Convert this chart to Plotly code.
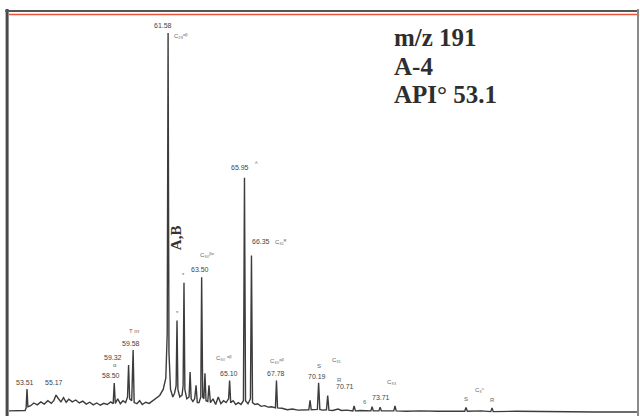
import plotly.graph_objects as go

# ---- chromatogram trace (retention time in min, relative intensity %) ----
rt = [52.48, 53.0, 53.40, 53.46, 53.51, 53.56, 53.7, 53.9, 54.1, 54.3, 54.5, 54.7, 54.9,
      55.05, 55.17, 55.3, 55.45, 55.6, 55.75, 55.9, 56.1, 56.3, 56.5, 56.7, 56.9, 57.1,
      57.3, 57.5, 57.7, 57.9, 58.1, 58.3, 58.44, 58.50, 58.56, 58.7, 58.85, 59.0, 59.15,
      59.26, 59.32, 59.38, 59.50, 59.58, 59.64, 59.8, 59.95, 60.1, 60.3, 60.5, 60.7, 60.9,
      61.1, 61.3, 61.45, 61.53, 61.58, 61.63, 61.72, 61.85, 61.95, 62.04, 62.09, 62.14,
      62.25, 62.38, 62.44, 62.49, 62.54, 62.65, 62.78, 62.84, 62.90, 63.0, 63.10, 63.18,
      63.25, 63.35, 63.45, 63.50, 63.56, 63.63, 63.69, 63.75, 63.85, 63.92, 64.0, 64.15,
      64.3, 64.45, 64.6, 64.75, 64.9, 65.04, 65.10, 65.16, 65.3, 65.45, 65.6, 65.75, 65.89,
      65.95, 66.01, 66.15, 66.29, 66.35, 66.41, 66.55, 66.7, 66.9, 67.1, 67.3, 67.5, 67.72,
      67.78, 67.84, 68.1, 68.4, 68.7, 69.0, 69.3, 69.63, 69.70, 69.77, 70.12, 70.19, 70.26,
      70.4, 70.64, 70.71, 70.78, 71.0, 71.3, 71.5, 71.8, 72.15, 72.22, 72.3, 72.6, 73.18,
      73.25, 73.32, 73.64, 73.71, 73.78, 74.2, 74.49, 74.56, 74.63, 75.2, 76.0, 77.0, 78.0,
      78.55, 78.62, 78.70, 79.5, 80.04, 80.11, 80.18, 81.5, 83.0, 84.5, 86.0, 88.46]
intensity = [-0.5, -0.5, -0.4, 0.3, 5.3, 0.6, 0.8, 1.6, 1.1, 1.9, 1.3, 2.2, 1.5,
             2.3, 3.7, 2.8, 1.9, 3.0, 1.8, 2.6, 1.9, 2.4, 1.6, 2.1, 1.3, 1.8,
             1.1, 1.6, 1.0, 1.5, 1.2, 1.9, 1.4, 6.9, 1.5, 2.7, 1.4, 2.2, 1.7,
             3.2, 11.7, 2.7, 2.2, 15.7, 1.7, 1.4, 2.2, 1.2, 1.8, 1.5, 2.2, 2.7,
             3.6, 5.2, 8.2, 20.0, 100.0, 15.0, 5.2, 3.2, 4.2, 6.2, 23.5, 5.2,
             3.2, 3.7, 6.2, 33.6, 5.2, 2.7, 3.2, 9.8, 2.7, 2.0, 2.7, 6.3,
             1.7, 1.7, 3.2, 35.0, 3.2, 2.7, 9.5, 2.2, 2.0, 6.3, 1.7, 2.7,
             1.2, 3.2, 1.4, 2.2, 1.7, 2.7, 7.6, 1.7, 2.2, 1.2, 1.7, 1.2, 2.2,
             61.5, 2.2, 1.4, 2.7, 40.8, 1.7, 1.2, 1.4, 0.7, 0.9, 0.5, 0.6, 0.3,
             7.6, 0.3, 0.2, -0.2, 0.0, -0.3, -0.2, -0.2, 2.3, -0.2, -0.1, 7.0, -0.1,
             -0.3, -0.2, 3.6, -0.3, -0.4, 0.0, -0.4, -0.3, -0.5, 0.8, -0.5, -0.4, -0.5,
             0.6, -0.5, -0.5, 0.5, -0.5, -0.4, -0.5, 0.8, -0.5, -0.6, -0.5, -0.6, -0.5,
             -0.6, 0.4, -0.6, -0.5, -0.7, 0.3, -0.7, -0.6, -0.7, -0.7, -0.8, -0.8]

# ---- labelled retention times ----
label_rt = [53.51, 55.17, 58.50, 59.32, 59.58, 61.58, 63.50, 65.10, 65.95, 66.35,
            67.78, 70.19, 70.71, 73.71]
label_text = ["53.51", "55.17", "58.50", "59.32", "59.58", "61.58", "63.50", "65.10",
              "65.95", "66.35", "67.78", "70.19", "70.71", "73.71"]

# ---- compound tags (peak rt, tag text) ----
tag_rt = [58.50, 59.58, 61.58, 62.09, 62.49, 63.50, 65.10, 65.95, 66.35, 67.78,
          70.19, 70.71, 70.71, 73.71, 73.25, 78.62, 80.11, 78.62]
tag_text = ["ɑ", "T m", "C₂₉ᵅᵝ", "*", "*", "C₃₀ᵝᵅ", "C₃₀ ᵅᵝ", "ᴬ", "C₃₁ᴿ", "C₃₀ᵅᵝ",
            "S", "C₃₁", "R", "C₃₃", "6", "S", "R", "C₃ˢ"]

# ---- sample information ----
info_lines = ["m/z 191", "A-4", "API° 53.1"]
rotated_note = "A,B"

# pixel offsets (label centre vs. peak apex): (xshift, yshift)
label_off = {"53.51": (-2, 1), "55.17": (-2, 7), "58.50": (-3, 2), "59.32": (-16, 2),
             "59.58": (-2, 1), "61.58": (-5, 2), "63.50": (-2, 2), "65.10": (-1, 1),
             "65.95": (-4, 5), "66.35": (10, 9), "67.78": (0, 1), "70.19": (-2, 1),
             "70.71": (17, 3), "73.71": (1, 4)}
tag_off = [(0, 13), (1, 14), (13, -8), (0, 3), (0, 3), (5, 17), (-6, 17), (12, 9),
           (30, 9), (1, 14), (0, 12), (9, 30), (12, 10), (12, 20), (-7, 0), (0, 3),
           (0, 3), (14, 12)]


def apex(t):
    best = min(range(len(rt)), key=lambda i: abs(rt[i] - t))
    return intensity[best]


fig = go.Figure()
fig.add_trace(go.Scatter(x=rt, y=intensity, mode="lines",
                         line=dict(color="#3c3c3c", width=1.4),
                         hoverinfo="skip", showlegend=False))

ann = []
for t, txt in zip(label_rt, label_text):
    dx, dy = label_off[txt]
    ann.append(dict(x=t, y=apex(t), xref="x", yref="y", text=txt, showarrow=False,
                    xanchor="center", yanchor="bottom", xshift=dx, yshift=dy,
                    font=dict(family="Liberation Sans", size=7, color="#444444")))
for (t, txt), (dx, dy) in zip(zip(tag_rt, tag_text), tag_off):
    ann.append(dict(x=t, y=apex(t), xref="x", yref="y", text=txt, showarrow=False,
                    xanchor="center", yanchor="bottom", xshift=dx, yshift=dy,
                    font=dict(family="Liberation Sans", size=6, color="#666666")))

for i, line in enumerate(info_lines):
    ann.append(dict(x=0.6085, y=0.938 - i * 0.071, xref="paper", yref="paper",
                    text="<b>" + line + "</b>", showarrow=False,
                    xanchor="left", yanchor="middle",
                    font=dict(family="Liberation Serif", size=25, color="#2e2e2e")))

ann.append(dict(x=62.05, y=45.5, xref="x", yref="y", text="<b>" + rotated_note + "</b>",
                showarrow=False, textangle=-90, xanchor="center", yanchor="middle",
                font=dict(family="Liberation Serif", size=15, color="#333333")))

shapes = [
    dict(type="line", xref="paper", yref="paper", x0=-0.003, x1=-0.003, y0=-0.01, y1=1.01,
         line=dict(color="#4a4a4a", width=3)),
    dict(type="line", xref="paper", yref="paper", x0=-0.006, x1=1.0, y0=1.005, y1=1.005,
         line=dict(color="#555555", width=2)),
    dict(type="line", xref="paper", yref="paper", x0=0.0, x1=1.0, y0=0.996, y1=0.996,
         line=dict(color="#e8553a", width=1.5)),
    dict(type="line", xref="paper", yref="paper", x0=1.0, x1=1.0, y0=-0.01, y1=1.01,
         line=dict(color="#8a8a8a", width=2)),
]

fig.update_layout(
    width=640, height=416,
    margin=dict(l=9, r=2, t=13, b=2),
    paper_bgcolor="white", plot_bgcolor="white",
    xaxis=dict(range=[52.48, 88.46], visible=False, fixedrange=True),
    yaxis=dict(range=[-1.33, 105.3], visible=False, fixedrange=True),
    annotations=ann, shapes=shapes, showlegend=False,
)

fig.write_html("out.html",
               config={"displayModeBar": False},
               post_script="document.body.style.margin='0';"
                           "document.body.style.overflow='hidden';")
